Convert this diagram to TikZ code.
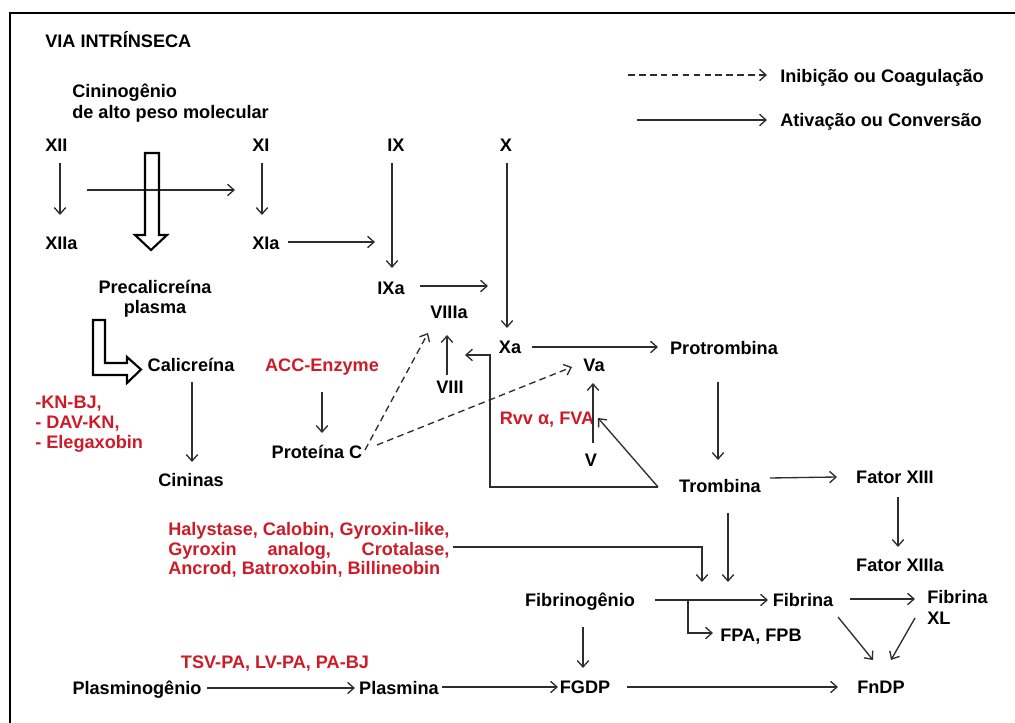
\documentclass[tikz,border=0pt]{standalone}
\usepackage{fontspec}
\setmainfont{Liberation Sans}
\usetikzlibrary{arrows.meta,calc}
\definecolor{venom}{RGB}{205,28,40}
\definecolor{ln}{RGB}{45,45,45}
\begin{document}
\begin{tikzpicture}[x=0.75pt,y=-0.75pt,
  every node/.style={inner sep=0pt,text height=9.7pt,text depth=0pt,font=\bfseries\fontsize{13.6}{16}\selectfont},
  lbl/.style={anchor=west},
  rlbl/.style={text=venom},
  arr/.style={draw=ln,line width=1pt,-{Straight Barb[length=4.8pt,width=8.5pt]}},
  dsh/.style={arr,dash pattern=on 5pt off 3.2pt},
  hollow/.style={draw=black,line width=1.6pt,line join=miter}]
\useasboundingbox (0,0) rectangle (1015,723);
\draw[line width=2.2pt] (10,723) -- (10,13) -- (1015,13);

% nodes
\node[lbl] (title) at (45,41) {VIA INTRÍNSECA};
\node[lbl] (cinA) at (72,91.5) {Cininogênio};
\node[lbl] (cinB) at (72,112) {de alto peso molecular};
\node[lbl] (XII) at (45,145) {XII};
\node[lbl] (XIIa) at (45,243) {XIIa};
\node[lbl] (XI) at (252,145) {XI};
\node[lbl] (XIa) at (252,243) {XIa};
\node (IX) at (396,145) {IX};
\node (X) at (506,145) {X};
\node (pre1) at (155,287) {Precalicreína};
\node (pre2) at (155,307.5) {plasma};
\node (cal) at (191,365) {Calicreína};
\node (cin) at (191,480) {Cininas};
\node[lbl,rlbl] (kn1) at (35,402) {-KN-BJ,};
\node[lbl,rlbl] (kn2) at (35,422) {- DAV-KN,};
\node[lbl,rlbl] (kn3) at (35,442) {- Elegaxobin};
\node[rlbl] (acc) at (322,365) {ACC-Enzyme};
\node (protc) at (317,452) {Proteína C};
\node (IXa) at (391,288) {IXa};
\node (VIIIa) at (449,312) {VIIIa};
\node (VIII) at (450,387) {VIII};
\node (Xa) at (510,347) {Xa};
\node (Va) at (594,365) {Va};
\node (V) at (591,460) {V};
\node[rlbl] (rvv) at (547,418) {Rvv α, FVA};
\node (prot) at (724,348) {Protrombina};
\node (tromb) at (720,486) {Trombina};
\node (f13) at (895,477) {Fator XIII};
\node (f13a) at (900,565) {Fator XIIIa};
\node[lbl,rlbl] (hal1) at (168,529) {Halystase, Calobin, Gyroxin-like,};
\node[lbl,rlbl] (hal2) at (168,549) {\sbox0{Halystase, Calobin, Gyroxin-like,}\makebox[\wd0][s]{Gyroxin\hfill analog,\hfill Crotalase,}};
\node[lbl,rlbl] (hal3) at (168,568) {Ancrod, Batroxobin, Billineobin};
\node (fibgen) at (580,600) {Fibrinogênio};
\node (fibrina) at (803,600) {Fibrina};
\node (fpa) at (761,635) {FPA, FPB};
\node[lbl] (fibxl1) at (927,597) {Fibrina};
\node[lbl] (fibxl2) at (927,618) {XL};
\node (fgdp) at (585,687) {FGDP};
\node (fndp) at (881,687) {FnDP};
\node (plgen) at (137,688) {Plasminogênio};
\node (plasmina) at (399,688) {Plasmina};
\node[rlbl] (tsv) at (275,662) {TSV-PA, LV-PA, PA-BJ};
\node[lbl] (leg1) at (780,76) {Inibição ou Coagulação};
\node[lbl] (leg2) at (780,120) {Ativação ou Conversão};

% legend
\draw[dsh] ($(leg1.west)+(-152,-1)$) -- ($(leg1.west)+(-13,-1)$);
\draw[arr] ($(leg2.west)+(-143,0)$) -- ($(leg2.west)+(-13,0)$);

% intrinsic start
\draw[arr] ($(XII.west)+(15,18)$) -- ($(XIIa.west)+(15,-28)$);
\draw[arr] ($(XI.west)+(10,18)$) -- ($(XIa.west)+(10,-28)$);
\draw[arr] ($(XII.west)+(42,45)$) -- ($(XI.west)+(-17,45)$);
\draw[hollow] (145,153) -- (159,153) -- (159,235) -- (167,235) -- (151,250) -- (135,235) -- (145,235) -- cycle;
\draw[hollow] (93,320) -- (105,320) -- (105,363) -- (127,363) -- (127,357) -- (141,369.5) -- (127,383) -- (127,375) -- (93,375) -- cycle;
\draw[arr] ($(cal)+(1,17)$) -- ($(cin)+(1,-18)$);
\draw[arr] ($(XIa.west)+(36,-1)$) -- ($(IXa)+(-16,-46)$);

% protein C
\draw[arr] ($(acc)+(0,27)$) -- ($(protc)+(5,-19)$);
\draw[dsh] ($(protc)+(48,-2)$) -- ($(VIIIa)+(-21,21)$);
\draw[dsh] ($(protc)+(60,-7)$) -- ($(Va)+(-22,2)$);

% IX, VIII, X
\draw[arr] ($(IX)+(-4,18)$) -- ($(IXa)+(1,-20)$);
\draw[arr] ($(IXa)+(29,-2)$) -- ++(68,0);
\draw[arr] ($(VIII)+(-3,-12)$) -- ($(VIIIa)+(-2,23)$);
\draw[arr] ($(X)+(1,18)$) -- ($(Xa)+(-3,-19)$);
\draw[arr] ($(Xa)+(22,0)$) -- ($(prot)+(-66,-1)$);
\draw[arr] ($(tromb)+(-62,1)$) -| ($(Xa)+(-20,8)$) -- ($(VIIIa)+(16,43)$);
\draw[arr] ($(tromb)+(-62,1)$) -- ($(V)+(7,-42)$);
\draw[arr] ($(V)+(2,-17)$) -- ($(Va)+(-1,18)$);

% thrombin
\draw[arr] ($(prot)+(-6,34)$) -- ($(tromb)+(-2,-26)$);
\draw[arr] ($(tromb)+(50,-8)$) -- ($(f13)+(-58,0)$);
\draw[arr] ($(f13)+(3,20)$) -- ($(f13a)+(-2,-18)$);
\draw[arr] ($(tromb)+(8,27)$) -- ($(fibrina)+(-75,-18)$);
\draw[arr] ($(hal2.east)+(3,-2)$) -| ($(fibrina)+(-101,-18)$);

% fibrin
\draw[arr] ($(fibgen)+(75,0)$) -- ($(fibrina)+(-35,0)$);
\draw[draw=ln,line width=2pt] ($(fibgen)+(75,0)$) -- ++(33,0);
\draw[arr] ($(fibgen)+(108,0)$) |- ($(fpa)+(-48,-2)$);
\draw[arr] ($(fibrina)+(47,-1)$) -- ($(fibxl1.west)+(-12,2)$);
\draw[arr] ($(fibrina)+(35,17)$) -- ($(fndp)+(-8,-27)$);
\draw[arr] ($(fibxl2.west)+(-12,0)$) -- ($(fndp)+(10,-27)$);
\draw[arr] ($(fibgen)+(3,27)$) -- ($(fgdp)+(-2,-19)$);
\draw[arr] ($(fgdp)+(42,0)$) -- ($(fndp)+(-43,0)$);
\draw[arr] ($(plgen)+(70,0)$) -- ($(plasmina.west)+(-4,0)$);
\draw[arr] ($(plasmina.east)+(3,-1)$) -- ($(fgdp)+(-27,0)$);
\end{tikzpicture}
\end{document}
